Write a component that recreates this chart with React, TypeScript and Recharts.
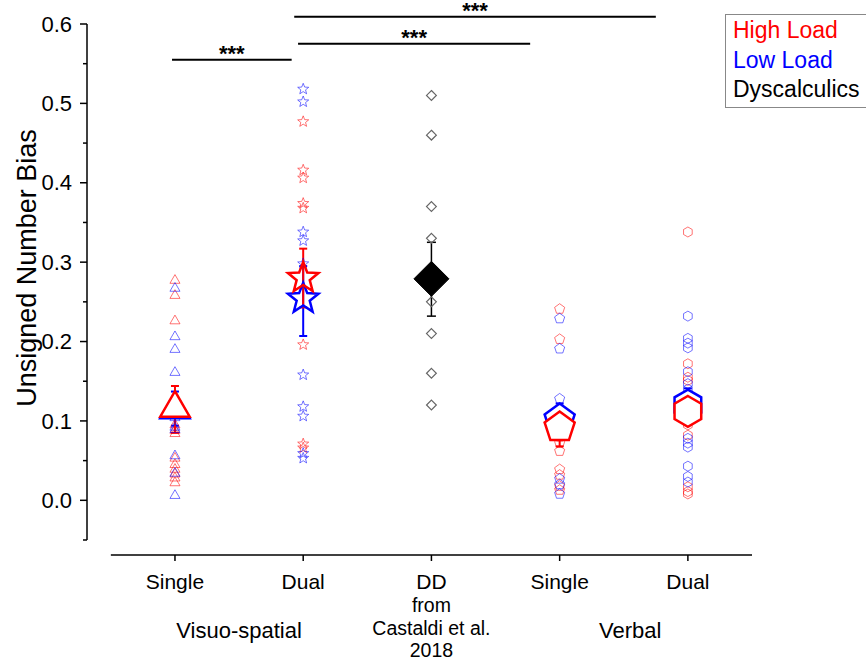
import React from 'react';
import { ScatterChart, Scatter, XAxis, YAxis, ErrorBar, ReferenceLine } from 'recharts';

const FONT = '"Liberation Sans", Arial, Helvetica, sans-serif';

// categories along the x axis (positions 1..5)
const CATEGORIES = ['Single', 'Dual', 'DD', 'Single', 'Dual'];
const SUBLABELS = [[], [], ['from', 'Castaldi et al.', '2018'], [], []];
const GROUP_AT = [1.5, 4.55];
const GROUP_LABELS = ['Visuo-spatial', 'Verbal'];
const MARKERS = ['triangle', 'star', 'diamond', 'pentagon', 'hexagon'];
const Y_TICKS = [-0.05, 0, 0.05, 0.1, 0.15, 0.2, 0.25, 0.3, 0.35, 0.4, 0.45, 0.5, 0.55, 0.6];

// individual participants
const VS_SINGLE_HIGH = [0.277, 0.258, 0.226, 0.095, 0.088, 0.084, 0.053, 0.045, 0.039, 0.033, 0.028, 0.022];
const VS_SINGLE_LOW = [0.267, 0.206, 0.19, 0.161, 0.104, 0.092, 0.089, 0.056, 0.034, 0.006];
const VS_DUAL_HIGH = [0.477, 0.416, 0.406, 0.374, 0.368, 0.196, 0.071, 0.066];
const VS_DUAL_LOW = [0.518, 0.502, 0.338, 0.327, 0.298, 0.158, 0.118, 0.106, 0.059, 0.053];
const DD_VALUES = [0.51, 0.46, 0.37, 0.33, 0.25, 0.21, 0.16, 0.12];
const VERBAL_SINGLE_HIGH = [0.241, 0.203, 0.08, 0.072, 0.062, 0.039, 0.032, 0.018, 0.013];
const VERBAL_SINGLE_LOW = [0.229, 0.191, 0.128, 0.027, 0.02, 0.008];
const VERBAL_DUAL_HIGH = [0.338, 0.172, 0.155, 0.151, 0.095, 0.082, 0.017, 0.011, 0.008];
const VERBAL_DUAL_LOW = [0.232, 0.204, 0.198, 0.192, 0.162, 0.147, 0.14, 0.078, 0.072, 0.067, 0.043, 0.03, 0.023];

const HIGH_LOAD = [VS_SINGLE_HIGH, VS_DUAL_HIGH, [], VERBAL_SINGLE_HIGH, VERBAL_DUAL_HIGH];
const LOW_LOAD = [VS_SINGLE_LOW, VS_DUAL_LOW, [], VERBAL_SINGLE_LOW, VERBAL_DUAL_LOW];
const DYSCALCULICS = [[], [], DD_VALUES, [], []];

// group means with error bar ends
const HIGH_MEAN = [0.116, 0.28, null, 0.092, 0.112];
const HIGH_ERR_LOW = [0.085, 0.243, null, 0.068, 0.095];
const HIGH_ERR_HIGH = [0.144, 0.317, null, 0.116, 0.13];
const LOW_MEAN = [0.114, 0.254, null, 0.102, 0.12];
const LOW_ERR_LOW = [0.094, 0.207, null, 0.086, 0.101];
const LOW_ERR_HIGH = [0.137, 0.295, null, 0.122, 0.141];
const DD_MEAN = [null, null, 0.279, null, null];
const DD_ERR_LOW = [null, null, 0.232, null, null];
const DD_ERR_HIGH = [null, null, 0.325, null, null];

// significance bars: x from, x to, height
const SIG_FROM = [0.977, 1.96, 1.93];
const SIG_TO = [1.91, 3.77, 4.75];
const SIG_Y = [0.555, 0.575, 0.609];

const pointsOf = (groups: number[][]) =>
  groups.flatMap((vals, i) => vals.map((v) => ({ x: i + 1, y: v, cat: i })));

const meansOf = (mean: (number | null)[], lo: (number | null)[], hi: (number | null)[]) =>
  mean.flatMap((m, i) =>
    m == null ? [] : [{ x: i + 1, y: m, cat: i, err: [m - (lo[i] as number), (hi[i] as number) - m] }]
  );

const SMALL_R: Record<string, number> = { triangle: 5.8, star: 5.8, diamond: 4.9, pentagon: 5.3, hexagon: 5 };
const BIG_R: Record<string, number> = { triangle: 17, star: 16, diamond: 17.5, pentagon: 15.8, hexagon: 15.4 };

function markerPath(kind: string, cx: number, cy: number, r: number) {
  const pts: string[] = [];
  if (kind === 'star') {
    for (let k = 0; k < 10; k++) {
      const rr = k % 2 === 0 ? r : r * 0.43;
      const a = ((-90 + k * 36) * Math.PI) / 180;
      pts.push(`${cx + rr * Math.cos(a)},${cy + rr * Math.sin(a)}`);
    }
  } else {
    const n = ({ triangle: 3, diamond: 4, pentagon: 5, hexagon: 6 } as Record<string, number>)[kind];
    for (let k = 0; k < n; k++) {
      const a = ((-90 + (k * 360) / n) * Math.PI) / 180;
      pts.push(`${cx + r * Math.cos(a)},${cy + r * Math.sin(a)}`);
    }
  }
  return 'M' + pts.join('L') + 'Z';
}

const makeShape = (sizes: Record<string, number>, stroke: string, sw: number, fills?: Record<string, string>) =>
  (props: any) => {
    const { cx, cy } = props;
    const cat = props.payload?.cat ?? props.cat ?? 0;
    const kind = MARKERS[cat];
    return (
      <path
        d={markerPath(kind, cx, cy, sizes[kind])}
        stroke={stroke}
        strokeWidth={sw}
        fill={fills ? fills[kind] : 'none'}
      />
    );
  };

const MEAN_FILL = { triangle: '#fff', star: 'none', diamond: '#000', pentagon: '#fff', hexagon: '#fff' };

const YTick = (props: any) => {
  const { x, y, payload } = props;
  const v = payload.value;
  const major = Math.abs(Math.round(v * 100)) % 10 === 0;
  return (
    <g>
      <line x1={x} x2={x - (major ? 7 : 4)} y1={y} y2={y} stroke="#000" strokeWidth={1.5} />
      {major && (
        <text x={x - 15} y={y} dy="0.35em" textAnchor="end" fontSize={22} fontFamily={FONT} fill="#000">
          {v.toFixed(1)}
        </text>
      )}
    </g>
  );
};

const XTick = (props: any) => {
  const { x, y, payload } = props;
  const v = payload.value;
  const g = GROUP_AT.indexOf(v);
  if (g >= 0) {
    return (
      <text x={x} y={y + 98} textAnchor="middle" fontSize={22} fontFamily={FONT} fill="#000">
        {GROUP_LABELS[g]}
      </text>
    );
  }
  const i = v - 1;
  return (
    <g>
      <line x1={x} x2={x} y1={y + 15} y2={y + 21} stroke="#000" strokeWidth={1.5} />
      <text x={x} y={y + 49} textAnchor="middle" fontSize={21} fontFamily={FONT} fill="#000">
        {CATEGORIES[i]}
      </text>
      {SUBLABELS[i].map((s, k) => (
        <text key={k} x={x} y={y + 72 + k * 22.5} textAnchor="middle" fontSize={19.5} fontFamily={FONT} fill="#000">
          {s}
        </text>
      ))}
    </g>
  );
};

const YTitle = (props: any) => {
  const vb = props.viewBox || { x: 0, y: 24, width: 87, height: 516 };
  const tx = vb.x + 36;
  const ty = vb.y + vb.height / 2 - 14;
  return (
    <text transform={`translate(${tx},${ty}) rotate(-90)`} textAnchor="middle" fontSize={27} fontFamily={FONT} fill="#000">
      Unsigned Number Bias
    </text>
  );
};

export default function App() {
  return (
    <div style={{ position: 'absolute', left: 0, top: 0, width: 866, height: 660, overflow: 'hidden', background: '#fff' }}>
      <ScatterChart width={866} height={660} margin={{ top: 24, right: 114, bottom: 0, left: 0 }}>
        <XAxis
          type="number"
          dataKey="x"
          domain={[0.314, 5.5]}
          ticks={[1, 1.5, 2, 3, 4, 4.55, 5]}
          allowDataOverflow
          axisLine={false}
          tickLine={false}
          tickSize={0}
          tickMargin={0}
          height={120}
          interval={0}
          tick={<XTick />}
        />
        <YAxis
          type="number"
          dataKey="y"
          domain={[-0.05, 0.6]}
          ticks={Y_TICKS}
          allowDataOverflow
          width={87}
          interval={0}
          axisLine={{ stroke: '#000', strokeWidth: 1.5 }}
          tickLine={false}
          tickSize={0}
          tickMargin={0}
          tick={<YTick />}
          label={<YTitle />}
        />
        <ReferenceLine
          segment={[{ x: 0.5, y: -0.0689 }, { x: 5.5, y: -0.0689 }]}
          stroke="#000"
          strokeWidth={1.5}
          ifOverflow="visible"
        />
        {SIG_Y.map((yv, k) => (
          <ReferenceLine
            key={k}
            segment={[{ x: SIG_FROM[k], y: yv }, { x: SIG_TO[k], y: yv }]}
            stroke="#000"
            strokeWidth={2}
            ifOverflow="visible"
            label={{ value: '***', position: 'top', offset: -1, fill: '#000', fontSize: 22, fontWeight: 'bold', fontFamily: FONT }}
          />
        ))}
        <Scatter data={pointsOf(HIGH_LOAD)} isAnimationActive={false} shape={makeShape(SMALL_R, 'rgba(255,0,0,0.55)', 1)} />
        <Scatter data={pointsOf(LOW_LOAD)} isAnimationActive={false} shape={makeShape(SMALL_R, 'rgba(0,0,255,0.55)', 1)} />
        <Scatter data={pointsOf(DYSCALCULICS)} isAnimationActive={false} shape={makeShape(SMALL_R, '#666', 1.2)} />
        <Scatter data={meansOf(LOW_MEAN, LOW_ERR_LOW, LOW_ERR_HIGH)} isAnimationActive={false} shape={makeShape(BIG_R, '#0000ff', 2.5, MEAN_FILL)}>
          <ErrorBar dataKey="err" direction="y" width={4} stroke="#0000ff" strokeWidth={2} />
        </Scatter>
        <Scatter data={meansOf(HIGH_MEAN, HIGH_ERR_LOW, HIGH_ERR_HIGH)} isAnimationActive={false} shape={makeShape(BIG_R, '#ff0000', 2.5, MEAN_FILL)}>
          <ErrorBar dataKey="err" direction="y" width={4} stroke="#ff0000" strokeWidth={2} />
        </Scatter>
        <Scatter data={meansOf(DD_MEAN, DD_ERR_LOW, DD_ERR_HIGH)} isAnimationActive={false} shape={makeShape(BIG_R, '#000', 1, MEAN_FILL)}>
          <ErrorBar dataKey="err" direction="y" width={4.5} stroke="#000" strokeWidth={1.5} />
        </Scatter>
      </ScatterChart>
      <div
        style={{
          position: 'absolute',
          left: 725,
          top: 14,
          width: 160,
          height: 94,
          border: '1px solid #888',
          boxSizing: 'border-box',
          fontFamily: FONT,
          fontSize: 23,
          lineHeight: '29.5px',
          paddingLeft: 7,
          paddingTop: 1,
        }}
      >
        <div style={{ color: '#ff0000' }}>High Load</div>
        <div style={{ color: '#0000ff' }}>Low Load</div>
        <div style={{ color: '#000' }}>Dyscalculics</div>
      </div>
    </div>
  );
}
